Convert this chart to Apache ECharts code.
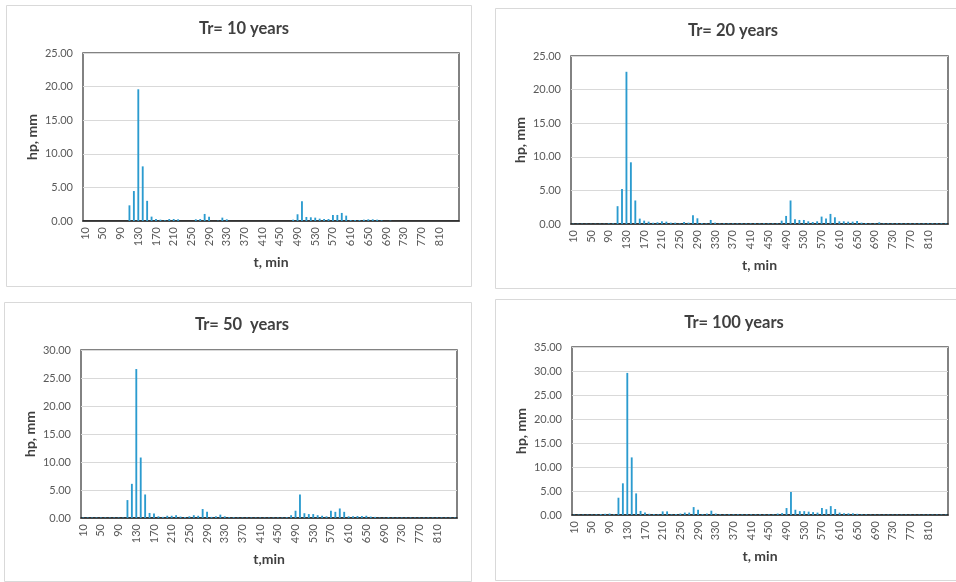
<!DOCTYPE html>
<html>
<head>
<meta charset="utf-8">
<script src="https://cdn.jsdelivr.net/npm/echarts@6/dist/echarts.min.js"></script>
<style>
  html, body { margin: 0; padding: 0; background: #ffffff; }
  #chart { width: 956px; height: 582px; }
</style>
</head>
<body>
<div id="chart"></div>
<script>
// Time steps of the design storm (minutes)
const timeSteps = [
  10, 20, 30, 40, 50, 60, 70, 80, 90, 100,
  110, 120, 130, 140, 150, 160, 170, 180, 190, 200,
  210, 220, 230, 240, 250, 260, 270, 280, 290, 300,
  310, 320, 330, 340, 350, 360, 370, 380, 390, 400,
  410, 420, 430, 440, 450, 460, 470, 480, 490, 500,
  510, 520, 530, 540, 550, 560, 570, 580, 590, 600,
  610, 620, 630, 640, 650, 660, 670, 680, 690, 700,
  710, 720, 730, 740, 750, 760, 770, 780, 790, 800,
  810, 820, 830, 840, 850
];

// Rainfall depth per step (mm) for each return period
const hpTr10 = [
  0, 0, 0, 0, 0, 0, 0, 0, 0, 0,
  2.33, 4.46, 19.6, 8.13, 3.0, 0.65, 0.3, 0.2, 0.1, 0.3,
  0.3, 0.25, 0, 0, 0, 0.25, 0.3, 1.05, 0.65, 0,
  0.05, 0.5, 0.25, 0, 0, 0, 0, 0, 0, 0,
  0, 0, 0, 0, 0, 0, 0, 0.2, 1.0, 2.95,
  0.6, 0.55, 0.5, 0.35, 0.3, 0.3, 0.9, 0.9, 1.2, 0.8,
  0.15, 0.15, 0.15, 0.2, 0.25, 0.25, 0.2, 0.1, 0, 0.05,
  0, 0, 0, 0, 0, 0, 0, 0, 0, 0,
  0, 0, 0, 0, 0
];
const hpTr20 = [
  0.05, 0.05, 0.05, 0.05, 0.05, 0.05, 0.05, 0.05, 0.1, 0.1,
  2.65, 5.2, 22.65, 9.18, 3.5, 0.8, 0.5, 0.35, 0.2, 0.25,
  0.4, 0.35, 0.2, 0.2, 0.1, 0.3, 0.2, 1.3, 0.85, 0.15,
  0.1, 0.6, 0.2, 0.1, 0.1, 0.1, 0.1, 0.1, 0.1, 0.1,
  0.1, 0.1, 0.1, 0.1, 0.1, 0.1, 0.1, 0.5, 1.2, 3.5,
  0.7, 0.6, 0.6, 0.4, 0.3, 0.4, 1.1, 0.8, 1.5, 1.0,
  0.4, 0.4, 0.35, 0.35, 0.45, 0.2, 0.15, 0.1, 0.1, 0.25,
  0.1, 0.1, 0.1, 0.1, 0.1, 0.1, 0.1, 0.1, 0.1, 0.1,
  0.1, 0.1, 0.1, 0.1, 0.1
];
const hpTr50 = [
  0.1, 0.1, 0.1, 0.1, 0.1, 0.1, 0.1, 0.1, 0.1, 0.1,
  3.2, 6.1, 26.6, 10.8, 4.2, 0.9, 0.8, 0.3, 0.2, 0.4,
  0.4, 0.5, 0.25, 0.2, 0.3, 0.5, 0.4, 1.6, 1.1, 0.2,
  0.3, 0.6, 0.3, 0.15, 0.15, 0.1, 0.1, 0.1, 0.1, 0.1,
  0.1, 0.1, 0.1, 0.1, 0.1, 0.1, 0.15, 0.5, 1.3, 4.2,
  0.85, 0.7, 0.7, 0.5, 0.4, 0.3, 1.3, 1.1, 1.7, 1.1,
  0.3, 0.3, 0.35, 0.35, 0.4, 0.25, 0.2, 0.1, 0.1, 0.15,
  0.1, 0.1, 0.1, 0.1, 0.1, 0.1, 0.1, 0.1, 0.1, 0.1,
  0.1, 0.1, 0.1, 0.1, 0.1
];
const hpTr100 = [
  0.1, 0.1, 0.1, 0.1, 0.1, 0.15, 0.2, 0.25, 0.3, 0.15,
  3.6, 6.6, 29.6, 12.0, 4.5, 0.85, 0.5, 0.25, 0.2, 0.15,
  0.75, 0.75, 0.15, 0.2, 0.3, 0.5, 0.5, 1.65, 1.1, 0.2,
  0.3, 0.9, 0.3, 0.15, 0.15, 0.15, 0.15, 0.15, 0.15, 0.15,
  0.15, 0.15, 0.15, 0.15, 0.15, 0.15, 0.3, 0.4, 1.45, 4.8,
  1.1, 0.8, 0.8, 0.7, 0.6, 0.5, 1.45, 1.2, 1.85, 1.25,
  0.5, 0.35, 0.35, 0.35, 0.25, 0.15, 0.15, 0.1, 0.1, 0.1,
  0.1, 0.1, 0.1, 0.1, 0.1, 0.1, 0.1, 0.1, 0.1, 0.1,
  0.1, 0.1, 0.1, 0.1, 0.1
];

const panelTitles = ['Tr= 10 years', 'Tr= 20 years', 'Tr= 50  years', 'Tr= 100 years'];
const xAxisNames = ['t, min', 't, min', 't,min', 't, min'];
const yAxisName = 'hp, mm';
const yMaxima = [25, 25, 30, 35];
const seriesData = [hpTr10, hpTr20, hpTr50, hpTr100];

// Layout of the four panels
const cards = [
  { x: 6, y: 5, w: 465, h: 281 },
  { x: 495, y: 8, w: 470, h: 280 },
  { x: 4, y: 302, w: 467, h: 279 },
  { x: 495, y: 299, w: 470, h: 281 }
];
const grids = [
  { left: 83, top: 53, width: 376, height: 168 },
  { left: 571, top: 56, width: 377, height: 168 },
  { left: 81, top: 350, width: 376, height: 168 },
  { left: 572, top: 347, width: 376, height: 168 }
];
const titleCenters = [239, 728, 237, 729];
const titleTops = [15, 17, 311, 309];

const textDark = '#404040';
const textGray = '#595959';
const barColor = '#2b9bcf';
const fontFamily = 'Lato, "Open Sans", sans-serif';

const chart = echarts.init(document.getElementById('chart'), null, { renderer: 'canvas' });

const option = {
  backgroundColor: '#ffffff',
  animation: false,
  textStyle: { fontFamily: fontFamily },
  graphic: cards.map(c => ({
    type: 'rect',
    z: -10,
    shape: { x: c.x + 0.5, y: c.y + 0.5, width: c.w, height: c.h },
    style: { fill: '#ffffff', stroke: '#d9d9d9', lineWidth: 1 }
  })),
  title: panelTitles.map((t, i) => ({
    text: t,
    left: titleCenters[i],
    top: titleTops[i],
    textAlign: 'center',
    textStyle: { fontSize: 16.5, fontWeight: 'bold', color: textDark, fontFamily: fontFamily }
  })),
  grid: grids.map(g => ({
    left: g.left, top: g.top, width: g.width, height: g.height,
    show: true, borderColor: '#5a5a5a', borderWidth: 1.5, backgroundColor: 'transparent',
    containLabel: false
  })),
  xAxis: grids.map((g, i) => ({
    type: 'category',
    gridIndex: i,
    data: timeSteps,
    boundaryGap: true,
    name: xAxisNames[i],
    nameLocation: 'middle',
    nameGap: 34,
    nameTextStyle: { fontSize: 14, fontWeight: 'bold', color: textDark },
    axisLine: { show: true, lineStyle: { color: '#1a1a1a', width: 1.5 } },
    axisTick: { show: false },
    axisLabel: {
      interval: 3, rotate: 90, color: textGray, fontSize: 11, margin: 6,
      showMaxLabel: false
    },
    splitLine: { show: false }
  })),
  yAxis: grids.map((g, i) => ({
    type: 'value',
    gridIndex: i,
    min: 0,
    max: yMaxima[i],
    interval: 5,
    name: yAxisName,
    nameLocation: 'middle',
    nameGap: 44,
    nameTextStyle: { fontSize: 14, fontWeight: 'bold', color: textDark },
    axisLine: { show: false },
    axisTick: { show: false },
    axisLabel: { color: textGray, fontSize: 11, margin: 10, formatter: v => v.toFixed(2) },
    splitLine: { show: true, lineStyle: { color: '#d9d9d9', width: 1 } }
  })),
  series: seriesData.map((d, i) => ({
    type: 'bar',
    xAxisIndex: i,
    yAxisIndex: i,
    data: d,
    barWidth: '42%',
    itemStyle: { color: barColor }
  }))
};

chart.setOption(option);
</script>
</body>
</html>
